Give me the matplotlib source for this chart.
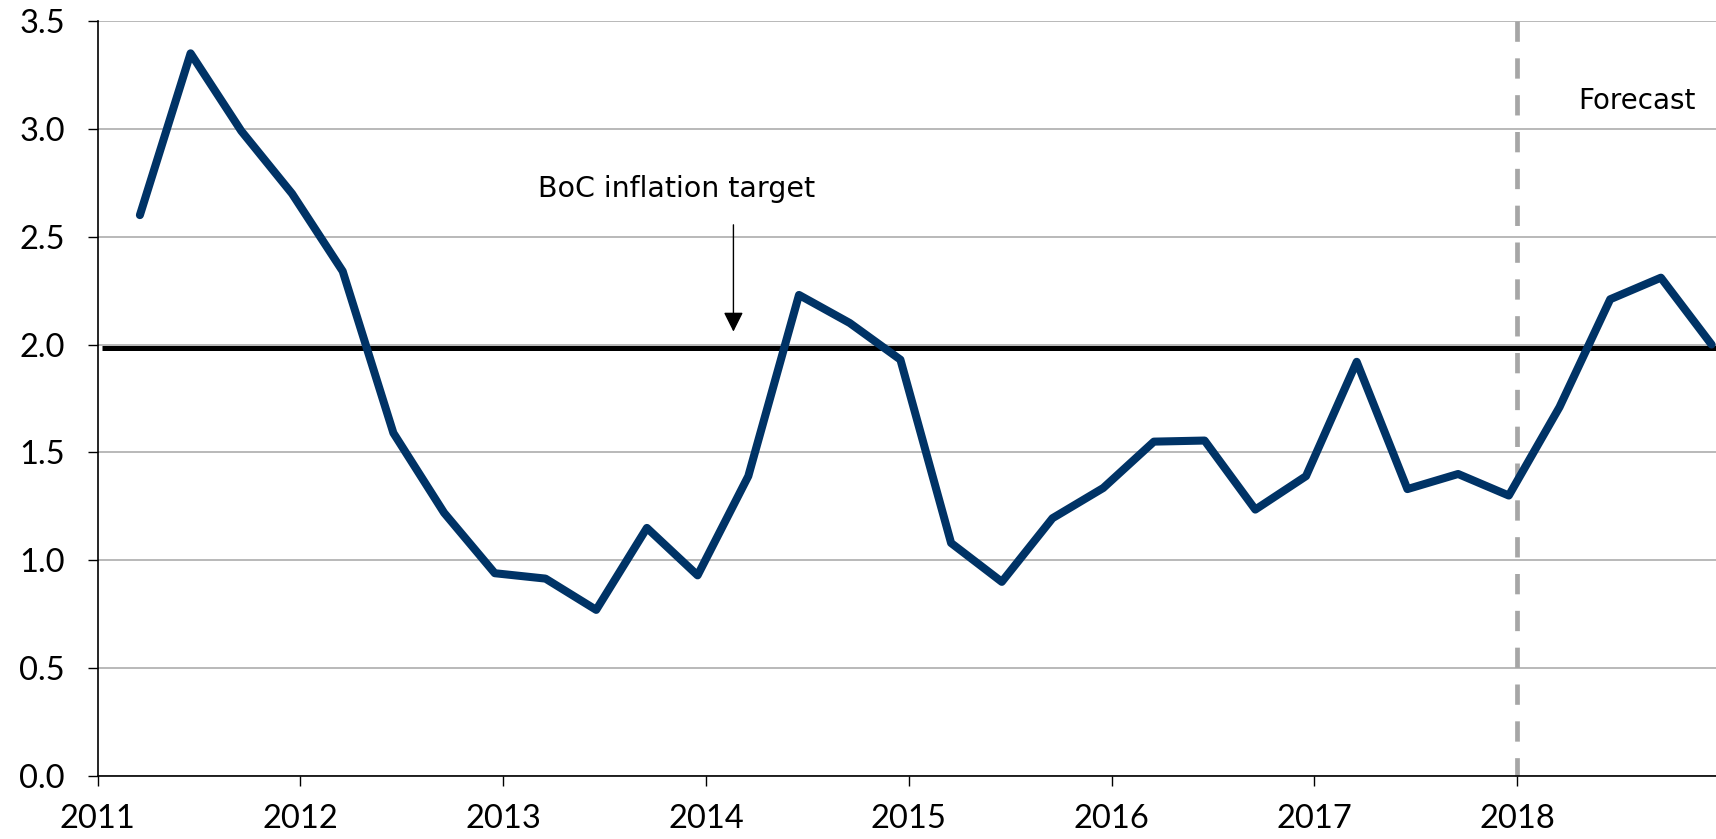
import matplotlib
matplotlib.use("Agg")
import matplotlib.pyplot as plt
import numpy as np

# quarterly CPI inflation, % y/y (2018 = forecast)
years = [2011] * 4 + [2012] * 4 + [2013] * 4 + [2014] * 4 + \
        [2015] * 4 + [2016] * 4 + [2017] * 4 + [2018] * 4
months = [3, 6, 9, 12] * 8
inflation = [2.60, 3.35, 2.99, 2.70,
             2.34, 1.59, 1.22, 0.94,
             0.915, 0.77, 1.15, 0.93,
             1.39, 2.23, 2.10, 1.93,
             1.08, 0.90, 1.195, 1.335,
             1.55, 1.555, 1.235, 1.39,
             1.92, 1.33, 1.40, 1.30,
             1.71, 2.21, 2.31, 2.00]

target = 1.985
forecast_start = 2018
year_ticks = [2011, 2012, 2013, 2014, 2015, 2016, 2017, 2018]
y_ticks = [0.0, 0.5, 1.0, 1.5, 2.0, 2.5, 3.0, 3.5]

NAVY = '#003366'
GRID = '#b3b3b3'
DASH = '#a6a6a6'

tick_font = ['Lato', 'DejaVu Sans']
text_font = ['DejaVu Sans']

# mid-month of last month in each quarter, as decimal year
x = np.array(years) + (np.array(months) - 0.5) / 12.0

fig = plt.figure(figsize=(17.16, 8.39), dpi=100)
ax = fig.add_axes([0.0569, 0.0751, 0.9431, 0.8999])

ax.set_xlim(2011, 2018.98)
ax.set_ylim(0, 3.5)

ax.set_yticks(y_ticks)
ax.set_yticklabels([f'{v:.1f}' for v in y_ticks])
ax.set_xticks(year_ticks)
ax.set_xticklabels([str(y) for y in year_ticks])

ax.yaxis.grid(True, color=GRID, linewidth=1.3)
ax.xaxis.grid(False)
ax.set_axisbelow(True)

for side in ['top', 'right']:
    ax.spines[side].set_visible(False)
for side in ['left', 'bottom']:
    ax.spines[side].set_color('black')
    ax.spines[side].set_linewidth(1.2)

ax.tick_params(axis='y', direction='out', length=7.5, width=1.0, pad=16)
ax.tick_params(axis='x', direction='out', length=7.5, width=1.0, pad=13)
for lbl in ax.get_xticklabels() + ax.get_yticklabels():
    lbl.set_family(tick_font)
    lbl.set_fontsize(23.5)

# target line
ax.plot([2011.02, 2018.98], [target, target], color='black', linewidth=3.6,
        solid_capstyle='butt', zorder=3)

# forecast divider
ax.plot([forecast_start, forecast_start], [3.5, 0], color=DASH, linewidth=3.4,
        dashes=(4.3, 3.5), zorder=2, clip_on=False)

# inflation series
ax.plot(x, inflation, color=NAVY, linewidth=5.8, solid_capstyle='round',
        solid_joinstyle='round', zorder=4)

ax.text(2013.854, 2.684, 'BoC inflation target', ha='center', va='baseline',
        fontsize=20.5, family=text_font)
ax.annotate('', xy=(2014.135, 2.06), xytext=(2014.135, 2.555),
            arrowprops=dict(arrowstyle='-|>,head_length=1.0,head_width=0.5',
                            mutation_scale=12, color='black', lw=1.0,
                            shrinkA=0, shrinkB=0))
ax.text(2018.589, 3.091, 'Forecast', ha='center', va='baseline',
        fontsize=20, family=text_font)

fig.savefig('out.png', dpi=100)
